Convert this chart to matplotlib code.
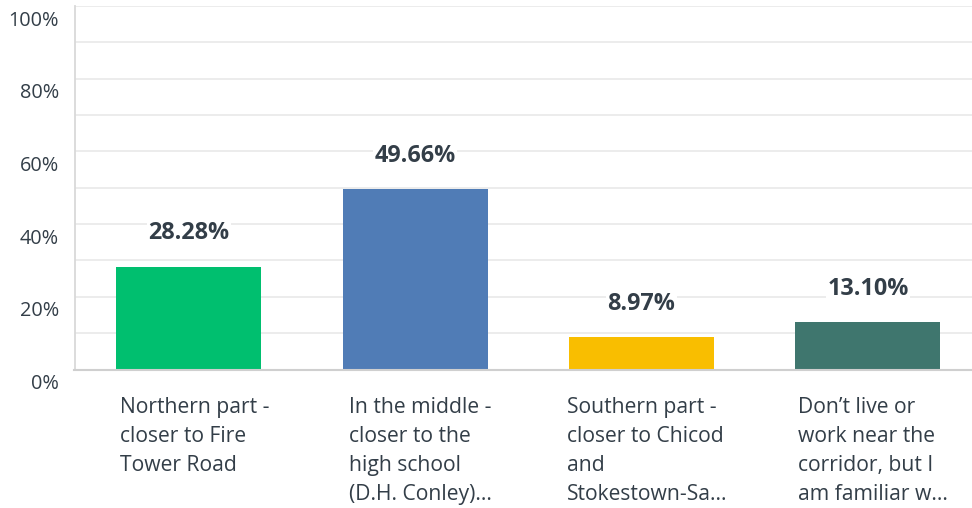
import matplotlib
matplotlib.use('Agg')
import matplotlib.pyplot as plt
from matplotlib.transforms import ScaledTranslation

plt.rcParams['font.family'] = ['Open Sans', 'DejaVu Sans']

# Donnees
categories = [
    "Northern part -\ncloser to Fire\nTower Road",
    "In the middle -\ncloser to the\nhigh school\n(D.H. Conley)...",
    "Southern part -\ncloser to Chicod\nand\nStokestown-Sa...",
    "Don\u2019t live or\nwork near the\ncorridor, but I\nam familiar w...",
]
pourcentages = [28.28, 49.66, 8.97, 13.10]
couleurs = ['#00BF6F', '#507CB6', '#F9BE00', '#3F766E']
ticks_y = [0, 20, 40, 60, 80, 100]

COULEUR_TEXTE = '#333E48'

fig = plt.figure(figsize=(9.72, 5.08), dpi=100)
ax = fig.add_axes([74.5 / 972, 138.5 / 508, 897.5 / 972, 363.5 / 508])

x = list(range(len(categories)))
largeur = 0.64
barres = ax.bar(x, pourcentages, width=largeur, color=couleurs, zorder=3)

ax.set_ylim(0, 100)
ax.set_xlim(-0.505, 3.46)

# Grille
ax.set_yticks(ticks_y)
ax.set_yticklabels([f'{v}%' for v in ticks_y], fontsize=14.3, color=COULEUR_TEXTE)
ax.set_yticks([10, 30, 50, 70, 90], minor=True)
ax.grid(axis='y', which='both', color='#EBEBEB', linewidth=1.3, zorder=0)
ax.tick_params(axis='y', which='both', length=0, pad=11)
ax.set_xticks([])

decalage = ScaledTranslation(0, -12 / 100, fig.dpi_scale_trans)
for lab in ax.get_yticklabels():
    lab.set_transform(lab.get_transform() + decalage)

for cote in ['top', 'right']:
    ax.spines[cote].set_visible(False)
ax.spines['left'].set_color('#D9D9D9')
ax.spines['left'].set_linewidth(1.3)
ax.spines['bottom'].set_color('#CFCFCF')
ax.spines['bottom'].set_linewidth(1.5)
ax.spines['bottom'].set_zorder(4)

# Valeurs au-dessus des barres
for barre, val in zip(barres, pourcentages):
    ax.annotate(
        f'{val:.2f}%',
        (barre.get_x() + barre.get_width() / 2, val),
        textcoords='offset points', xytext=(0, 24),
        ha='center', va='center',
        fontsize=16.8, fontweight='bold', color=COULEUR_TEXTE,
        bbox=dict(boxstyle='square,pad=0.05', facecolor='white', edgecolor='none'),
        zorder=5
    )

# Etiquettes des categories (bloc centre, texte aligne a gauche)
for barre, lab in zip(barres, categories):
    ax.annotate(
        lab,
        (barre.get_x() + barre.get_width() / 2, 0),
        textcoords='offset points', xytext=(4, -19.5),
        ha='center', va='top', multialignment='left',
        fontsize=15.2, color=COULEUR_TEXTE, linespacing=1.5,
        annotation_clip=False
    )

fig.savefig('out.png', dpi=100, facecolor='white')
